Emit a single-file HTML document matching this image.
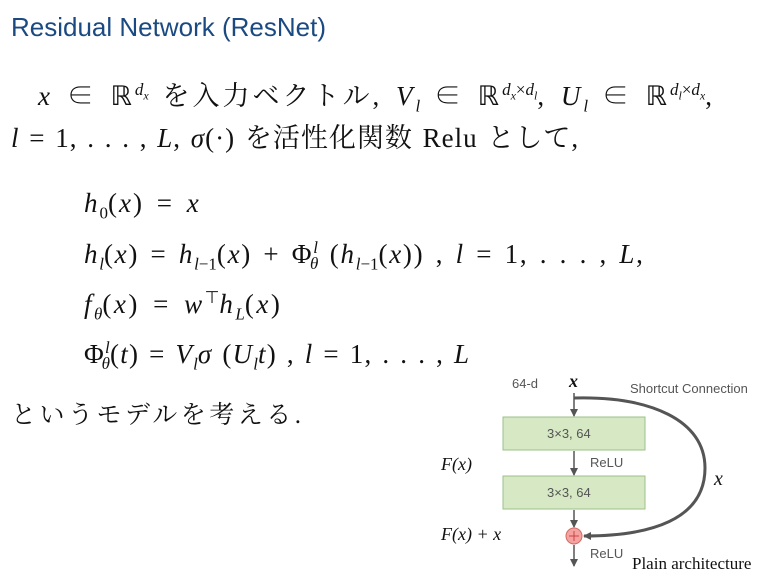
<!DOCTYPE html>
<html><head><meta charset="utf-8"><style>
body{margin:0;width:774px;height:573px;background:#fff;position:relative;overflow:hidden;font-family:"Liberation Serif","Noto Serif CJK SC",serif;color:#111}
.a{position:absolute;white-space:nowrap}
.t{font-family:"Liberation Sans",sans-serif;color:#1b4a82;font-size:26px;left:11px;top:12px}
.m{font-size:27px;letter-spacing:2px;word-spacing:4px}
i{font-style:italic}
sup,sub{font-size:17px;letter-spacing:0}
.s{font-family:"Liberation Sans","Noto Sans CJK JP",sans-serif;font-size:13px;color:#555}
</style></head><body>
<div class="a t">Residual Network (ResNet)</div>
<div class="a m" style="left:38px;top:74px;letter-spacing:3px"><i>x</i> ∈ ℝ<sup><i>d<sub style="font-size:12px">x</sub></i></sup> を入力ベクトル, <i>V<sub>l</sub></i> ∈ ℝ<sup><i>d<sub style="font-size:12px">x</sub></i>×<i>d<sub style="font-size:12px">l</sub></i></sup>, <i>U<sub>l</sub></i> ∈ ℝ<sup><i>d<sub style="font-size:12px">l</sub></i>×<i>d<sub style="font-size:12px">x</sub></i></sup>,</div>
<div class="a m" style="left:11px;top:116px;letter-spacing:1px;word-spacing:2px"><i>l</i> = 1, . . . , <i>L</i>, <i>σ</i>(·) を活性化関数 Relu として,</div>
<div class="a m" style="left:84px;top:188px"><i>h</i><sub>0</sub>(<i>x</i>) = <i>x</i></div>
<div class="a m" style="left:84px;top:238px;letter-spacing:1.7px;word-spacing:3px"><i>h<sub>l</sub></i>(<i>x</i>) = <i>h</i><sub><i>l</i>−1</sub>(<i>x</i>) + Φ<sup><i>l</i></sup><sub style="margin-left:-8px"><i>θ</i></sub> (<i>h</i><sub><i>l</i>−1</sub>(<i>x</i>)) , <i>l</i> = 1, . . . , <i>L</i>,</div>
<div class="a m" style="left:84px;top:288px;letter-spacing:2.5px"><i>f<sub>θ</sub></i>(<i>x</i>) = <i>w</i><sup>⊤</sup><i>h<sub>L</sub></i>(<i>x</i>)</div>
<div class="a m" style="left:84px;top:338px;letter-spacing:1.2px;word-spacing:2px">Φ<sup><i>l</i></sup><sub style="margin-left:-8px"><i>θ</i></sub>(<i>t</i>) = <i>V<sub>l</sub>σ</i> (<i>U<sub>l</sub>t</i>) , <i>l</i> = 1, . . . , <i>L</i></div>
<div class="a m" style="left:11px;top:395px;font-size:25px;letter-spacing:3.5px">というモデルを考える.</div>

<svg class="a" style="left:0;top:0" width="774" height="573">
<defs><marker id="ar" markerWidth="8" markerHeight="8" refX="7" refY="4" orient="auto" markerUnits="userSpaceOnUse"><path d="M0,0 L8,4 L0,8z" fill="#555"/></marker></defs>
<g stroke="#555" stroke-width="1.5" fill="none">
<line x1="574" y1="393" x2="574" y2="416" marker-end="url(#ar)"/>
<line x1="574" y1="451" x2="574" y2="475" marker-end="url(#ar)"/>
<line x1="574" y1="510" x2="574" y2="527" marker-end="url(#ar)"/>
<line x1="574" y1="545" x2="574" y2="566" marker-end="url(#ar)"/>
<path d="M574,398 C650,396 705,420 705,468 C705,520 650,536 584,536" stroke-width="3" marker-end="url(#ar)"/>
</g>
<rect x="503" y="417" width="142" height="33" fill="#d6e9c4" stroke="#9cc08a"/>
<rect x="503" y="476" width="142" height="33" fill="#d6e9c4" stroke="#9cc08a"/>
<circle cx="574" cy="536" r="8" fill="#f4a3a0" stroke="#d46a66"/>
<path d="M569,536h10M574,531v10" stroke="#c44" stroke-width="1"/>
<g font-family="Liberation Sans,sans-serif" font-size="13" fill="#555">
<text x="547" y="438">3×3, 64</text>
<text x="547" y="497">3×3, 64</text>
<text x="590" y="467">ReLU</text>
<text x="590" y="558">ReLU</text>
<text x="512" y="388">64-d</text>
<text x="630" y="393">Shortcut Connection</text>
</g>
<g font-family="Liberation Serif,serif" font-style="italic" font-size="18" fill="#111">
<text x="569" y="387" font-weight="bold">x</text>
<text x="441" y="470">F(x)</text>
<text x="441" y="540">F(x) + x</text>
<text x="714" y="485" font-size="20">x</text>
</g>
<text x="632" y="569" font-family="Liberation Serif,serif" font-size="17" fill="#111">Plain architecture</text>
</svg>
</body></html>
